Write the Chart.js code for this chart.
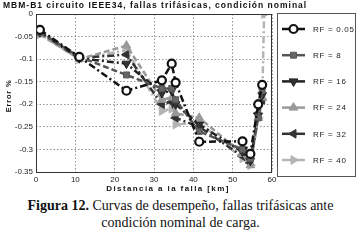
<!DOCTYPE html>
<html>
<head>
<meta charset="utf-8">
<script src="https://cdn.jsdelivr.net/npm/chart.js@4/dist/chart.umd.min.js"></script>
<style>
  html, body { margin: 0; padding: 0; background: #fff; }
  #wrap { position: relative; width: 361px; height: 195px; }
  #cap { width: 361px; text-align: center; font-family: "Liberation Serif", "Times New Roman", serif; font-size: 14px; line-height: 17px; color: #111; margin-top: 2px; }
</style>
</head>
<body>
<div id="wrap"><canvas id="c" width="361" height="195"></canvas></div>
<div id="cap"><b>Figura 12.</b> Curvas de desempeño, fallas trifásicas ante<br>condición nominal de carga.</div>
<script>
// Data
const distances = [1, 11, 23, 32, 34.5, 35.5, 41.5, 52.5, 54.5, 56.5, 57.5, 58];
const rf005 = [-0.035, -0.095, -0.170, -0.147, -0.110, -0.152, -0.283, -0.282, -0.310, -0.200, -0.157, null];
const rf8   = [-0.040, -0.095, -0.135, -0.165, -0.165, -0.190, -0.260, -0.300, -0.320, -0.230, -0.170, null];
const rf16  = [-0.040, -0.098, -0.110, -0.175, -0.170, -0.200, -0.245, -0.305, -0.325, -0.225, -0.180, null];
const rf24  = [-0.045, -0.100, -0.070, -0.190, -0.185, -0.220, -0.230, -0.310, -0.335, -0.230, -0.185, null];
const rf32  = [-0.040, -0.097, -0.090, -0.200, -0.195, -0.230, -0.250, -0.315, -0.330, -0.220, -0.190, null];
const rf40  = [-0.045, -0.100, -0.080, -0.215, -0.210, -0.245, -0.240, -0.320, -0.335, -0.230, -0.190, 0.000];
const seriesLabels = ["RF = 0.05", "RF = 8", "RF = 16", "RF = 24", "RF = 32", "RF = 40"];
const xTicks = [0, 10, 20, 30, 40, 50, 60];
const yTicks = [0, -0.05, -0.1, -0.15, -0.2, -0.25, -0.3, -0.35];

const seriesValues = [rf005, rf8, rf16, rf24, rf32, rf40];
const styles = [
  { color: '#111', fill: '#fff', dash: [7, 3, 2, 3], point: 'circle', rot: 0, r: 4 },
  { color: '#555', fill: '#666', dash: [6, 3], point: 'rect', rot: 0, r: 4.2 },
  { color: '#222', fill: '#333', dash: [7, 3, 2, 3], point: 'triangle', rot: 180, r: 5 },
  { color: '#999', fill: '#999', dash: [6, 3], point: 'triangle', rot: 0, r: 5 },
  { color: '#333', fill: '#333', dash: [7, 3, 2, 3], point: 'triangle', rot: -90, r: 5 },
  { color: '#b4b4b4', fill: '#b4b4b4', dash: [7, 3, 2, 3], point: 'triangle', rot: 90, r: 5 }
];

const datasets = seriesValues.map((vals, i) => ({
  label: seriesLabels[i],
  data: distances.map((d, j) => vals[j] === null ? null : { x: d, y: vals[j] }).filter(p => p),
  borderColor: styles[i].color,
  backgroundColor: styles[i].fill,
  borderWidth: 2.5,
  borderDash: styles[i].dash,
  pointStyle: styles[i].point,
  pointRotation: styles[i].rot,
  pointRadius: styles[i].r,
  pointBorderColor: styles[i].color,
  pointBorderWidth: i === 0 ? 2.2 : 1,
  pointBackgroundColor: styles[i].fill,
  tension: 0,
  fill: false
}));

const PLOT = { left: 36, top: 14, right: 272, bottom: 172 };
const FONT = '"Liberation Sans", Arial, sans-serif';

const deco = {
  id: 'deco',
  afterDraw(chart) {
    const ctx = chart.ctx;
    const a = chart.chartArea;
    ctx.save();
    // plot border
    ctx.strokeStyle = '#333';
    ctx.lineWidth = 1;
    ctx.setLineDash([]);
    ctx.strokeRect(a.left + 0.5, a.top + 0.5, a.right - a.left - 1, a.bottom - a.top);
    // title
    ctx.fillStyle = '#111';
    ctx.font = 'bold 8.5px ' + FONT;
    ctx.letterSpacing = '1px';
    ctx.textAlign = 'left';
    ctx.textBaseline = 'middle';
    ctx.fillText('MBM-B1 circuito IEEE34, fallas trifásicas, condición nominal', 3, 6);
    // axis titles
    ctx.font = 'bold 8px ' + FONT;
    ctx.letterSpacing = '1.4px';
    ctx.textAlign = 'center';
    ctx.fillText('Distancia a la falla [km]', (a.left + a.right) / 2 + 14, 189);
    ctx.save();
    ctx.translate(9, 96);
    ctx.rotate(-Math.PI / 2);
    ctx.font = 'bold 7.5px ' + FONT;
    ctx.letterSpacing = '0.8px';
    ctx.fillText('Error %', 0, 0);
    ctx.restore();
    // legend box
    const lx = 277, ly = 13, lw = 78, lh = 163;
    ctx.fillStyle = '#fff';
    ctx.fillRect(lx, ly, lw, lh);
    ctx.strokeStyle = '#555';
    ctx.strokeRect(lx + 0.5, ly + 0.5, lw, lh);
    chart.data.datasets.forEach((ds, i) => {
      const y = 29 + i * 26.2;
      ctx.strokeStyle = ds.borderColor;
      ctx.lineWidth = 2.5;
      ctx.setLineDash([]);
      ctx.beginPath();
      ctx.moveTo(282, y); ctx.lineTo(305, y);
      ctx.stroke();
      ctx.fillStyle = ds.pointBackgroundColor;
      ctx.lineWidth = ds.pointBorderWidth;
      Chart.helpers.drawPoint(ctx, {
        pointStyle: ds.pointStyle, rotation: ds.pointRotation,
        radius: ds.pointRadius, borderWidth: ds.pointBorderWidth
      }, 293.5, y);
      ctx.fillStyle = '#222';
      ctx.font = '8px ' + FONT;
      ctx.letterSpacing = '0.7px';
      ctx.textAlign = 'left';
      ctx.fillText(ds.label, 313, y + 0.5);
    });
    ctx.restore();
  }
};

new Chart(document.getElementById('c'), {
  type: 'line',
  data: { datasets },
  plugins: [deco],
  options: {
    responsive: false,
    animation: false,
    devicePixelRatio: 1,
    layout: { padding: { left: 0, top: PLOT.top, right: 361 - PLOT.right, bottom: 0 } },
    plugins: { legend: { display: false }, title: { display: false }, tooltip: { enabled: false } },
    scales: {
      x: {
        type: 'linear', min: 0, max: 60,
        afterBuildTicks: s => { s.ticks = xTicks.map(v => ({ value: v })); },
        afterFit: s => { s.height = 195 - PLOT.bottom; },
        grid: { color: '#777', lineWidth: 0.8, borderDash: [1.5, 2], drawTicks: false },
        border: { display: false, dash: [1.5, 2] },
        ticks: { color: '#222', font: { family: FONT, size: 8 }, padding: 3, maxRotation: 0 },
        title: { display: false }
      },
      y: {
        type: 'linear', min: -0.35, max: 0,
        afterBuildTicks: s => { s.ticks = yTicks.map(v => ({ value: v })); },
        afterFit: s => { s.width = PLOT.left; },
        grid: { color: '#777', lineWidth: 0.8, borderDash: [1.5, 2], drawTicks: false },
        border: { display: false, dash: [1.5, 2] },
        ticks: { color: '#222', font: { family: FONT, size: 8 }, padding: 3, callback: v => String(parseFloat(Number(v).toFixed(2))) },
        title: { display: false }
      }
    }
  }
});
</script>
</body>
</html>
